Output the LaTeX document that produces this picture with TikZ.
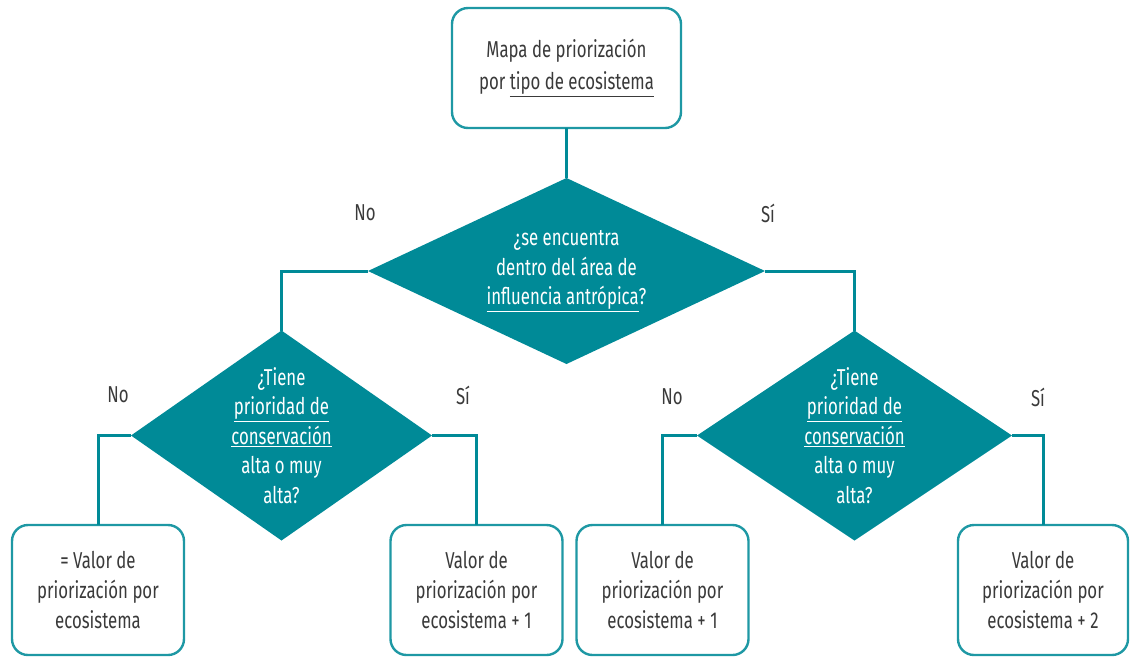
\documentclass[tikz,border=0pt]{standalone}
\usepackage{fontspec}
\setmainfont{Fira Sans}[FakeStretch=0.73]
\usetikzlibrary{shapes.geometric}
\definecolor{tealD}{HTML}{008A97}
\definecolor{tealB}{HTML}{1E98A4}
\definecolor{txt}{HTML}{3A3A3A}
\begin{document}
\begin{tikzpicture}[x=1pt,y=-1pt,
  boxnode/.style={draw=tealB,line width=2.4pt,rounded corners=16pt,fill=white,
    minimum width=172pt,minimum height=130pt,inner sep=0pt,outer sep=0pt,
    text=txt,align=center,font=\fontsize{23}{30}\selectfont},
  dia/.style={diamond,fill=tealD,inner sep=0pt,outer sep=0pt},
  diatext/.style={text=white,align=center,font=\fontsize{23}{29.5}\selectfont},
  conn/.style={draw=tealD,line width=3pt},
  lab/.style={text=txt,font=\fontsize{23}{28}\selectfont}]
\useasboundingbox (0,0) rectangle (1130,657);
% top box
\node[boxnode,minimum width=229pt,minimum height=120pt,font=\fontsize{23}{32}\selectfont] (top) at (566.5,68)
  {Mapa de priorización\\por \underline{tipo de ecosistema}};
% diamonds
\node[dia,minimum width=397pt,minimum height=186pt] (d0) at (566.5,271) {};
\node[dia,minimum width=301pt,minimum height=210pt] (d1) at (281.5,435.5) {};
\node[dia,minimum width=315pt,minimum height=210pt] (d2) at (854.5,435.5) {};
\node[diatext] (t0) at (d0.center) {¿se encuentra\\dentro del área de\\\underline{influencia antrópica}?};
\node[diatext] (t1) at (d1.center) {¿Tiene\\\underline{prioridad de}\\\underline{conservación}\\alta o muy\\alta?};
\node[diatext] (t2) at (d2.center) {¿Tiene\\\underline{prioridad de}\\\underline{conservación}\\alta o muy\\alta?};
% bottom boxes
\node[boxnode] (b1) at (98,590) {= Valor de\\priorización por\\ecosistema};
\node[boxnode] (b2) at (476.5,590) {Valor de\\priorización por\\ecosistema + 1};
\node[boxnode] (b3) at (662.5,590) {Valor de\\priorización por\\ecosistema + 1};
\node[boxnode,minimum width=170pt] (b4) at (1043,590) {Valor de\\priorización por\\ecosistema + 2};
% connectors
\draw[conn] (top.south) -- (d0.north);
\draw[conn] (d0.west) -| (d1.north);
\draw[conn] (d0.east) -| (d2.north);
\draw[conn] (d1.west) -| (b1.north);
\draw[conn] (d1.east) -| (b2.north);
\draw[conn] (d2.west) -| (b3.north);
\draw[conn] (d2.east) -| (b4.north);
% labels
\node[lab] (l0) at (365,213) {No};
\node[lab] (l1) at (768,213) {Sí};
\node[lab] (l2) at (118,395) {No};
\node[lab] (l3) at (463,395) {Sí};
\node[lab] (l4) at (672,397) {No};
\node[lab] (l5) at (1038,397) {Sí};
\end{tikzpicture}
\end{document}
